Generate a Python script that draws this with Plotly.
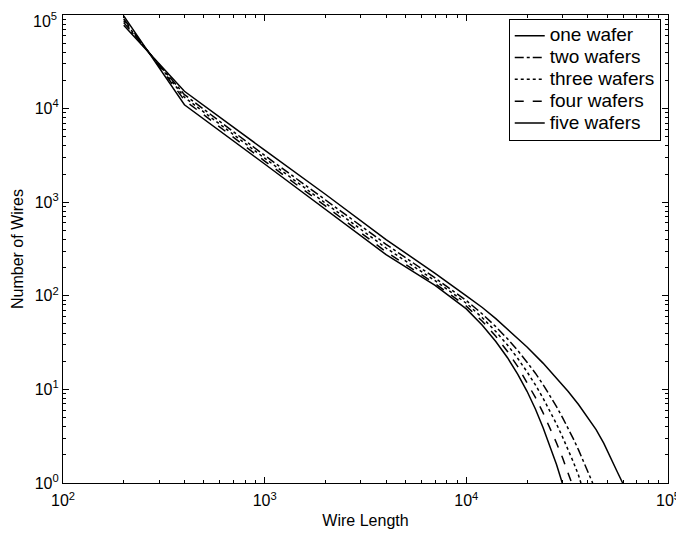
import plotly.graph_objects as go

# ---- data ----
x_one = [200, 400, 1000, 2000, 4000, 7000, 10000, 12000, 14000, 17000, 20000, 24000, 28000,
         32000, 36000, 40000, 44000, 48000, 52000, 56000, 59600]
y_one = [77600, 15300, 3600, 1216, 398, 174, 100, 75, 57, 39.5, 28.4, 19.1, 13.3,
         9.5, 6.9, 5.05, 3.72, 2.67, 1.89, 1.32, 1.0]

x_two = [200, 400, 1000, 2000, 4000, 7000, 10000, 12000, 14000, 16000, 18000, 20000, 22000,
         24000, 26000, 28000, 30000, 32000, 34000, 36000, 38000, 40000, 42300]
y_two = [83200, 14100, 3160, 1070, 355, 155, 89.1, 64.0, 46.9, 34.7, 26.0, 19.5, 14.9,
         11.3, 8.57, 6.55, 5.0, 3.83, 2.94, 2.26, 1.73, 1.34, 1.0]

x_three = [200, 400, 1000, 2000, 4000, 7000, 10000, 12000, 14000, 16000, 18000, 20000, 22000,
           24000, 26000, 28000, 30000, 32000, 34000, 36000, 37000]
y_three = [87100, 13200, 2950, 977, 324, 145, 83.2, 58.3, 41.6, 29.8, 21.4, 15.4, 11.2,
           8.09, 5.86, 4.27, 3.10, 2.26, 1.66, 1.21, 1.0]

x_four = [200, 400, 1000, 2000, 4000, 7000, 10000, 12000, 14000, 16000, 18000, 20000, 22000,
          24000, 26000, 28000, 30000, 32000, 33300]
y_four = [91200, 12300, 2750, 912, 295, 135, 77.6, 53.5, 36.9, 25.4, 17.5, 11.9, 8.2,
          5.64, 3.87, 2.68, 1.86, 1.29, 1.0]

x_five = [200, 400, 1000, 2000, 4000, 7000, 10000, 12000, 14000, 16000, 18000, 20000, 22000,
          24000, 26000, 28000, 29900]
y_five = [97700, 11000, 2560, 840, 275, 129, 72.4, 48.5, 32.5, 21.8, 14.5, 9.55, 6.18,
          3.92, 2.47, 1.58, 1.0]

series_names = ["one wafer", "two wafers", "three wafers", "four wafers", "five wafers"]
series_dash = ["solid", "dashdot", "dot", "dash", "solid"]

x_tickvals = [1e2, 1e3, 1e4, 1e5]
x_ticktext = ["10<sup>2</sup>", "10<sup>3</sup>", "10<sup>4</sup>", "10<sup>5</sup>"]
y_tickvals = [1e0, 1e1, 1e2, 1e3, 1e4, 1e5]
y_ticktext = ["10<sup>0</sup>", "10<sup>1</sup>", "10<sup>2</sup>", "10<sup>3</sup>", "10<sup>4</sup>", "10<sup>5</sup>"]

xs = [x_one, x_two, x_three, x_four, x_five]
ys = [y_one, y_two, y_three, y_four, y_five]

FONT = "Liberation Sans, Arial, Helvetica, sans-serif"

fig = go.Figure()
for name, dash, xv, yv in zip(series_names, series_dash, xs, ys):
    fig.add_trace(go.Scatter(
        x=xv, y=yv, mode="lines",
        name='<span style="font-size:19px">' + name + '</span>',
        line=dict(color="black", width=1.5, dash=dash)))

def minor_vals(lo, hi):
    vals = []
    for e in range(lo, hi):
        for m in range(2, 10):
            vals.append(m * 10 ** e)
    return vals

axis_common = dict(
    type="log", showgrid=False, zeroline=False, automargin=True,
    showline=True, linecolor="black", linewidth=1.2, mirror="ticks",
    ticks="inside", ticklen=6, tickcolor="black", tickwidth=1,
    ticklabeloverflow="allow",
    tickfont=dict(family=FONT, size=16, color="black"),
)

# the top y label sits at the window edge: it is drawn as an annotation nudged down
y_axis_text = y_ticktext[:-1] + [""]

fig.update_xaxes(**axis_common, range=[2, 5], tickmode="array",
                 tickvals=x_tickvals, ticktext=x_ticktext, ticklabelstandoff=3,
                 minor=dict(tickmode="array", tickvals=minor_vals(2, 5), ticks="inside",
                            ticklen=3, tickcolor="black"),
                 title=dict(text="Wire Length", standoff=6,
                            font=dict(family=FONT, size=16, color="black")))
fig.update_yaxes(**axis_common, range=[0, 5], tickmode="array",
                 tickvals=y_tickvals, ticktext=y_axis_text,
                 minor=dict(tickmode="array", tickvals=minor_vals(0, 5), ticks="inside",
                            ticklen=3, tickcolor="black"),
                 title=dict(text="Number of Wires", standoff=7,
                            font=dict(family=FONT, size=16, color="black")))

fig.add_annotation(text=y_ticktext[-1], xref="paper", x=0, xanchor="right", xshift=-4,
                   yref="y", y=5, yanchor="top", yshift=7, showarrow=False,
                   font=dict(family=FONT, size=16, color="black"))

# the page body adds an 8px offset; the figure is sized to fill the rest of the window
fig.update_layout(
    width=676, height=529,
    margin=dict(l=55, r=16, t=7, b=54, autoexpand=False),
    paper_bgcolor="white", plot_bgcolor="white",
    font=dict(family=FONT, color="black"),
    showlegend=True,
    legend=dict(x=0.988, y=0.992, xanchor="right", yanchor="top",
                bgcolor="white", bordercolor="black", borderwidth=1,
                font=dict(family=FONT, size=14.5, color="black"),
                tracegroupgap=0, itemwidth=30),
)

fig.write_html("out.html")
